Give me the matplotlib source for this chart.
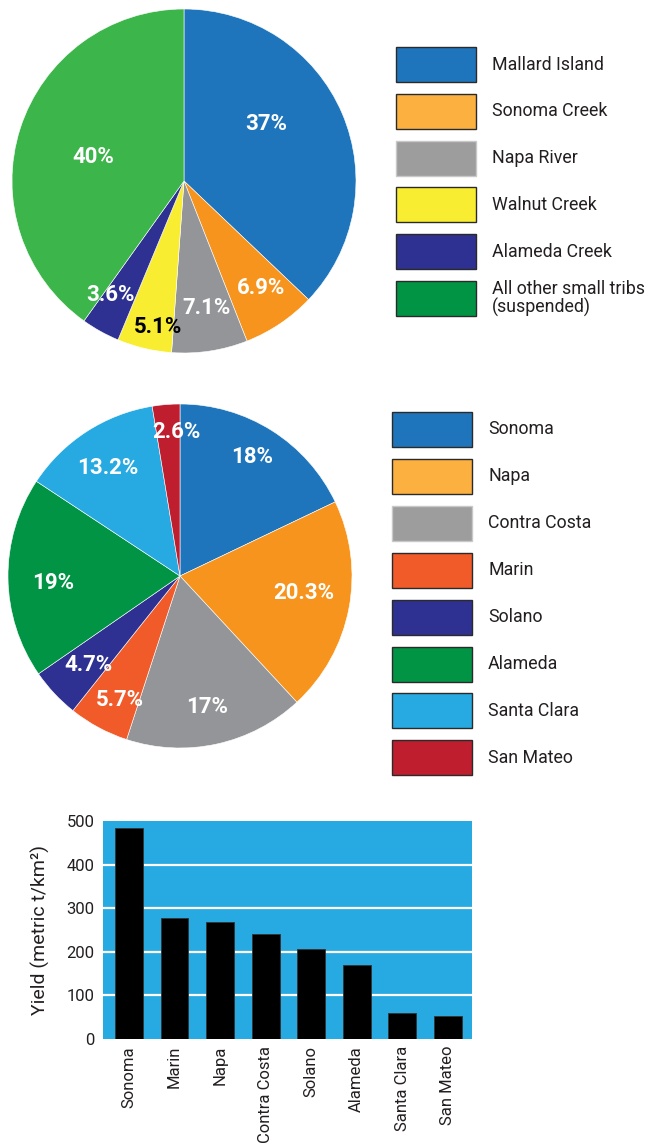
import matplotlib.pyplot as plt
from matplotlib.patches import Rectangle

plt.rcParams['font.family'] = ['Roboto', 'DejaVu Sans']

W, H = 652, 1148

# top pie: suspended sediment sources
src_names = ["Mallard Island", "Sonoma Creek", "Napa River", "Walnut Creek",
             "Alameda Creek", "All other small tribs\n(suspended)"]
src_pct = [37, 6.9, 7.1, 5.1, 3.6, 40]
src_pie_colors = ["#1f75bc", "#f7941d", "#939598", "#f9ed32", "#2e3192", "#3cb54a"]
src_leg_colors = ["#1f75bc", "#fbb040", "#9d9d9d", "#f9ed32", "#2e3192", "#009444"]
src_label_xy = [(0.48, 0.33), (0.45, -0.62), (0.13, -0.74), (-0.15, -0.85),
                (-0.43, -0.66), (-0.53, 0.14)]
src_label_col = ["white", "white", "white", "black", "white", "white"]

# middle pie: county shares
cty_names = ["Sonoma", "Napa", "Contra Costa", "Marin", "Solano", "Alameda",
             "Santa Clara", "San Mateo"]
cty_pct = [18, 20.3, 17, 5.7, 4.7, 19, 13.2, 2.6]
cty_pie_colors = ["#1f75bc", "#f7941d", "#939598", "#f15a29", "#2e3192",
                  "#009444", "#27aae1", "#be1e2d"]
cty_leg_colors = ["#1f75bc", "#fbb040", "#9d9d9d", "#f15a29", "#2e3192",
                  "#009444", "#27aae1", "#be1e2d"]
cty_label_xy = [(0.42, 0.69), (0.72, -0.10), (0.16, -0.76), (-0.35, -0.72),
                (-0.53, -0.52), (-0.74, -0.04), (-0.42, 0.63), (-0.02, 0.84)]

# bottom bars: yield by county
bar_names = ["Sonoma", "Marin", "Napa", "Contra Costa", "Solano", "Alameda",
             "Santa Clara", "San Mateo"]
bar_yield = [483, 277, 269, 241, 206, 170, 60, 53]


def px_axes(fig, left, top, width, height):
    # add axes using pixel box measured from the top-left corner
    return fig.add_axes([left / W, (H - top - height) / H, width / W, height / H])


def fmt(v):
    return "%g%%" % v


def draw_pie(ax, values, colors, label_xy, label_cols):
    ax.pie(values, colors=colors, startangle=90, counterclock=False,
           wedgeprops=dict(edgecolor="white", linewidth=0.4))
    for v, (x, y), c in zip(values, label_xy, label_cols):
        ax.text(x, y, fmt(v), color=c, fontsize=16, fontweight="bold",
                ha="center", va="center")
    ax.set_xlim(-1, 1)
    ax.set_ylim(-1, 1)
    ax.set_aspect("equal")
    ax.axis("off")


def draw_legend(ax, names, colors, x0, y0, step):
    for i, (n, c) in enumerate(zip(names, colors)):
        y = y0 + i * step
        ec = "#c8c8c8" if c == "#9d9d9d" else "#2a2a2a"
        ax.add_patch(Rectangle((x0, y), 80, 35, facecolor=c, edgecolor=ec, lw=1))
        ax.text(x0 + 96, y + 17.5, n, fontsize=12.8, color="#231f20",
                va="center", ha="left", linespacing=1.05)


fig = plt.figure(figsize=(W / 100, H / 100), dpi=100)

ax1 = px_axes(fig, 12, 9, 344, 344)
draw_pie(ax1, src_pct, src_pie_colors, src_label_xy, src_label_col)

ax2 = px_axes(fig, 8, 404, 344, 344)
draw_pie(ax2, cty_pct, cty_pie_colors, cty_label_xy, ["white"] * len(cty_pct))

# overlay in pixel coords for the legend boxes
lg = fig.add_axes([0, 0, 1, 1], facecolor="none")
lg.set_xlim(0, W)
lg.set_ylim(H, 0)
lg.axis("off")
draw_legend(lg, src_names, src_leg_colors, 396, 47, 46.8)
draw_legend(lg, cty_names, cty_leg_colors, 392, 412, 46.9)

# bar chart
ax3 = px_axes(fig, 103, 821, 369, 218)
ax3.set_facecolor("#27aae1")
ax3.bar(range(len(bar_yield)), bar_yield, width=0.61, color="black",
        edgecolor="#333333", linewidth=0.6, zorder=3)
ax3.set_xlim(-0.57, 7.53)
ax3.set_ylim(0, 500)
ax3.set_yticks([0, 100, 200, 300, 400, 500])
for g in [100, 200, 300, 400]:
    ax3.axhline(g, color="white", lw=1.6, zorder=1)
ax3.set_xticks(range(len(bar_names)))
ax3.set_xticklabels(bar_names, rotation=90, fontsize=12, color="#231f20")
ax3.tick_params(axis="both", length=0, labelsize=12, colors="#231f20")
ax3.tick_params(axis="y", pad=6)
ax3.tick_params(axis="x", pad=5)
for s in ax3.spines.values():
    s.set_visible(False)
ax3.set_ylabel("Yield (metric t/km²)", fontsize=14, color="#231f20", labelpad=12)

fig.savefig("out.png", dpi=100)
